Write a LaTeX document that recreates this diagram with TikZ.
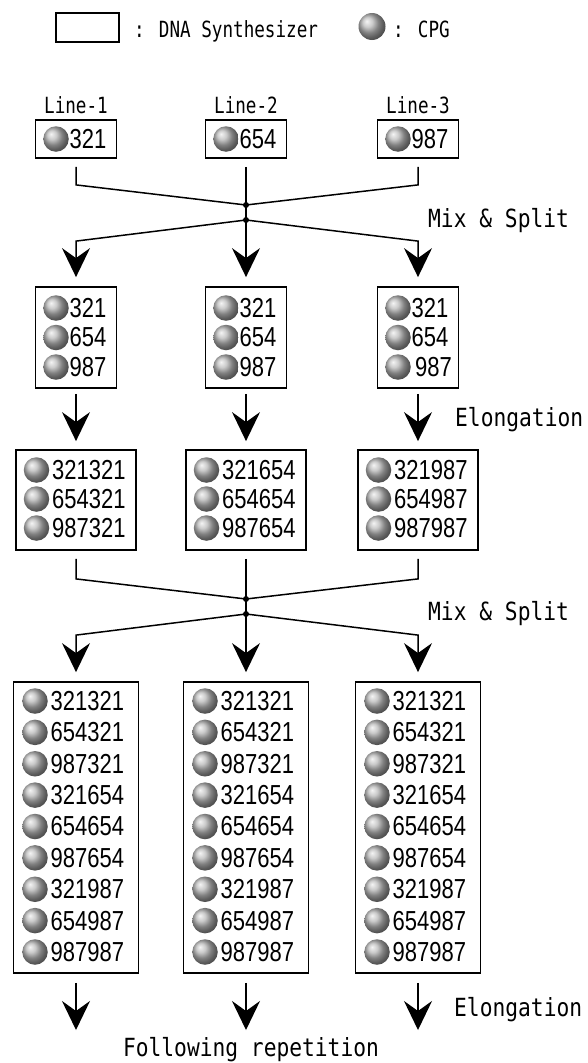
\documentclass[tikz,border=0pt]{standalone}
\usepackage{fontspec}
\usetikzlibrary{arrows.meta}
\newfontfamily\lblfont[FakeStretch=0.85]{DejaVu Sans Mono}
\newfontfamily\smfont[FakeStretch=0.79]{DejaVu Sans Mono}
\newfontfamily\numfont[FakeStretch=0.8]{Liberation Sans}
\begin{document}
\begin{tikzpicture}[x=1pt,y=-1pt,
  synbox/.style={draw, line width=1.8pt, inner sep=0pt},
  cpg/.style={circle, minimum size=25.5pt, inner sep=0pt, shading=ball, ball color=gray!55},
  num/.style={inner sep=0pt, anchor=west, font=\numfont\fontsize{27.5}{30}\selectfont},
  lbl/.style={inner sep=0pt, anchor=base west, font=\lblfont\fontsize{25}{30}\selectfont},
  lblsmall/.style={inner sep=0pt, font=\smfont\fontsize{22.3}{26}\selectfont},
  dot/.style={circle, fill, inner sep=0pt, minimum size=6pt},
  conn/.style={line width=1.5pt},
  arr/.style={-{Stealth[length=29pt, width=28pt, inset=10pt]}}]
\useasboundingbox (0,0) rectangle (587,1063);
\fill[white] (0,0) rectangle (587,1063);
% legend
\node[synbox, minimum width=63pt, minimum height=29pt] (legbox) at (87.5,27.5) {};
\node[lblsmall, anchor=base west] (legtxt) at (134,37) {: DNA Synthesizer};
\node[cpg, minimum size=27pt] (legball) at (372,26.5) {};
\node[lblsmall, anchor=base west] (legcpg) at (393,37) {: CPG};
% row 1
\foreach \c/\v [count=\i] in {76/321,246/654,418/987}{
  \node[lblsmall, anchor=base] (line\i) at (\c,113) {Line-\i};
  \node[synbox, minimum width=81pt, minimum height=38pt] (b1\i) at (\c,139) {};
  \node[cpg] (s1\i) at (\c-20,139) {};
  \node[num] (t1\i) at (\c-6.5,139) {\v};
}
% row 2
\foreach \c [count=\i] in {76,246,418}{
  \node[synbox, minimum width=81pt, minimum height=101pt] (b2\i) at (\c,337.5) {};
  \foreach \v [count=\k] in {321,654,987}{
    \node[cpg] (s2\i\k) at (\c-20,{308+(\k-1)*29.5}) {};
    \ifnum\i\k=33
      \node[num] (t2\i\k) at (\c-3,{308+(\k-1)*29.5}) {\v};
    \else
      \node[num] (t2\i\k) at (\c-6.5,{308+(\k-1)*29.5}) {\v};
    \fi
  }
}
% row 3
\foreach \c/\s [count=\i] in {76/321,246/654,418/987}{
  \node[synbox, minimum width=120pt, minimum height=100pt] (b3\i) at (\c,500) {};
  \foreach \p [count=\k] in {321,654,987}{
    \node[cpg] (s3\i\k) at (\c-39.5,{470+(\k-1)*29}) {};
    \node[num] (t3\i\k) at (\c-24,{470+(\k-1)*29}) {\p\s};
  }
}
% row 4
\foreach \c [count=\i] in {76,246,418}{
  \node[synbox, minimum width=125pt, minimum height=291pt] (b4\i) at (\c,827.5) {};
  \foreach \s [count=\m] in {321,654,987}{
    \foreach \p [count=\n] in {321,654,987}{
      \node[cpg] (s4\i\m\n) at (\c-41,{701+((\m-1)*3+\n-1)*31.375}) {};
      \node[num] (t4\i\m\n) at (\c-25.5,{701+((\m-1)*3+\n-1)*31.375}) {\p\s};
    }
  }
}
% junctions
\node[dot] (j1) at (246,205) {};
\node[dot] (j2) at (246,220) {};
\node[dot] (j3) at (246,599) {};
\node[dot] (j4) at (246,614) {};
% mix & split 1
\draw[conn] ([yshift=-8pt]b11.south) -- ++(0,18) -- (j1.center);
\draw[conn] ([yshift=-8pt]b13.south) -- ++(0,18) -- (j1.center);
\draw[conn] ([yshift=-8pt]b12.south) -- (j1.center) -- (j2.center);
\draw[conn,arr] (j2.center) -- ([yshift=45pt]b21.north) -- ([yshift=9pt]b21.north);
\draw[conn,arr] (j2.center) -- ([yshift=45pt]b23.north) -- ([yshift=9pt]b23.north);
\draw[conn,arr] (j2.center) -- ([yshift=9pt]b22.north);
\node[lbl] (mix1) at (428,227) {Mix \& Split};
% elongation 1
\foreach \i in {1,2,3}{
  \draw[conn,arr] ([yshift=-5pt]b2\i.south) -- ([yshift=8pt]b3\i.north);
}
\node[lbl] (elo1) at (455,426) {Elongation};
% mix & split 2
\draw[conn] ([yshift=-8pt]b31.south) -- ++(0,20) -- (j3.center);
\draw[conn] ([yshift=-8pt]b33.south) -- ++(0,20) -- (j3.center);
\draw[conn] ([yshift=-8pt]b32.south) -- (j3.center) -- (j4.center);
\draw[conn,arr] (j4.center) -- ([yshift=46pt]b41.north) -- ([yshift=9pt]b41.north);
\draw[conn,arr] (j4.center) -- ([yshift=46pt]b43.north) -- ([yshift=9pt]b43.north);
\draw[conn,arr] (j4.center) -- ([yshift=9pt]b42.north);
\node[lbl] (mix2) at (428,620) {Mix \& Split};
% elongation 2
\foreach \c [count=\i] in {76,246,418}{
  \coordinate (e\i) at (\c,1030);
  \draw[conn,arr] ([yshift=-9pt]b4\i.south) -- (e\i);
}
\node[lbl] (elo2) at (454,1016) {Elongation};
\node[lbl, anchor=base] (follow) at (251,1056) {Following repetition};
\end{tikzpicture}
\end{document}
